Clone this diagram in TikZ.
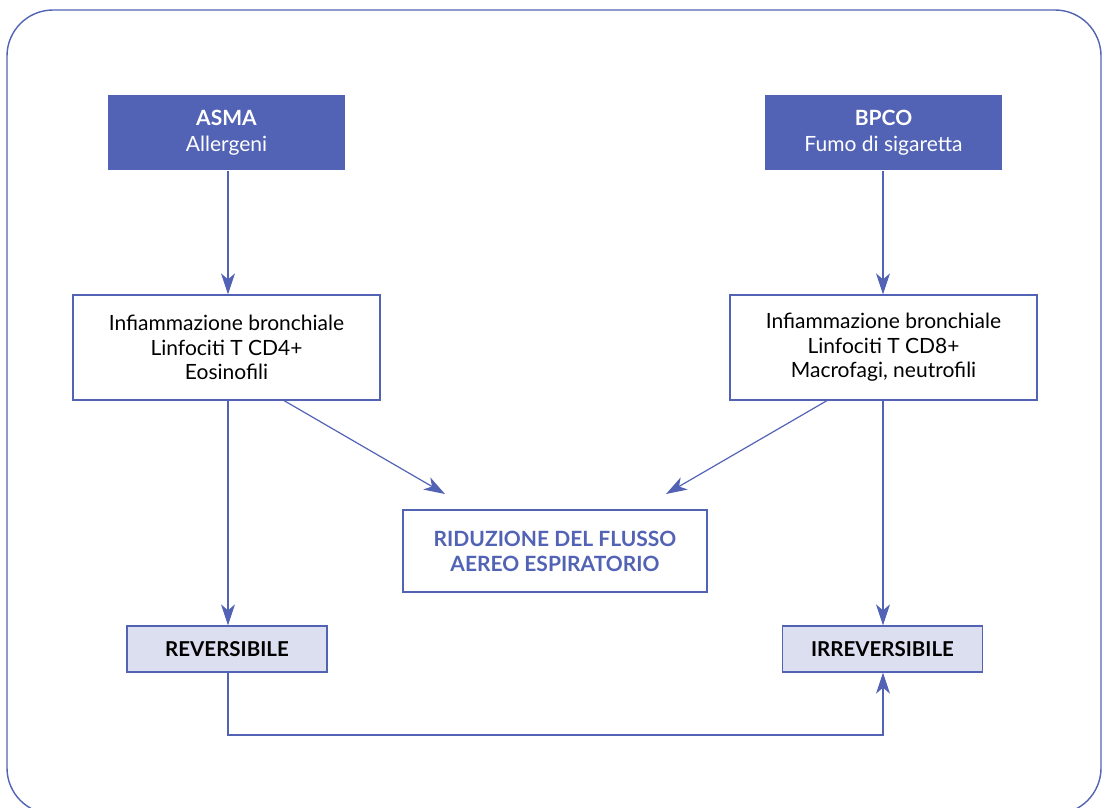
\documentclass[tikz,border=0pt]{standalone}
\usepackage{fontspec}
\setmainfont{Lato}
\usetikzlibrary{arrows.meta}
\definecolor{mblue}{RGB}{82,98,180}
\definecolor{mlight}{RGB}{220,223,240}
\begin{document}
\begin{tikzpicture}[x=1pt,y=-1pt,
  line width=1.3pt,
  conn/.style={draw=mblue,line width=1.2pt,-{Stealth[length=21pt,width=14pt,inset=6pt]}},
  topbox/.style={fill=mblue,draw=none,text=white,minimum width=237pt,minimum height=75pt,align=center,font=\fontsize{21}{26}\selectfont},
  midbox/.style={draw=mblue,fill=white,line width=1.3pt,minimum width=307pt,minimum height=105pt,align=center,font=\fontsize{21}{24.5}\selectfont},
  resbox/.style={draw=mblue,fill=mlight,line width=1.3pt,minimum width=200pt,minimum height=46pt,align=center,font=\fontsize{20.5}{24}\selectfont\bfseries},
  flowbox/.style={draw=mblue,fill=white,line width=1.3pt,minimum width=304pt,minimum height=82pt,align=center,text=mblue,font=\fontsize{21}{25}\selectfont\bfseries}]
\useasboundingbox (0,0) rectangle (1102,807);
\begin{scope}
\clip (0,0) rectangle (1102,807);
\draw[mblue,line width=1.4pt,rounded corners=46pt] (7,10) rectangle (1101,814);
\end{scope}
\node[topbox] (asma) at (226.5,132.5) {\textbf{ASMA}\\Allergeni};
\node[topbox] (bpco) at (883.5,132.5) {\textbf{BPCO}\\Fumo di sigaretta};
\node[midbox] (infl) at (226.5,347.5) {Infiammazione bronchiale\\Linfociti T CD4+\\Eosinofili};
\node[midbox] (infr) at (883.5,347.5) {Infiammazione bronchiale\\Linfociti T CD8+\\Macrofagi, neutrofili};
\node[flowbox] (flusso) at (555,551) {RIDUZIONE DEL FLUSSO\\AEREO ESPIRATORIO};
\node[resbox] (rev) at (227,649) {REVERSIBILE};
\node[resbox] (irr) at (882.5,649) {IRREVERSIBILE};
\coordinate (la) at (283,400);
\coordinate (ra) at (828,400);
\coordinate (lt) at (445,494);
\coordinate (rt) at (666,494);
\draw[conn] (asma.south -| 228,0) -- (infl.north -| 228,0);
\draw[conn] (bpco.south -| 883,0) -- (infr.north -| 883,0);
\draw[conn] (infl.south -| 228,0) -- (rev.north -| 228,0);
\draw[conn] (infr.south -| 883,0) -- (irr.north -| 883,0);
\draw[conn] (la) -- (lt);
\draw[conn] (ra) -- (rt);
\draw[conn] (rev.south -| 228,0) -- (228,735) -- (883,735) -- (irr.south -| 883,0);
\end{tikzpicture}
\end{document}
